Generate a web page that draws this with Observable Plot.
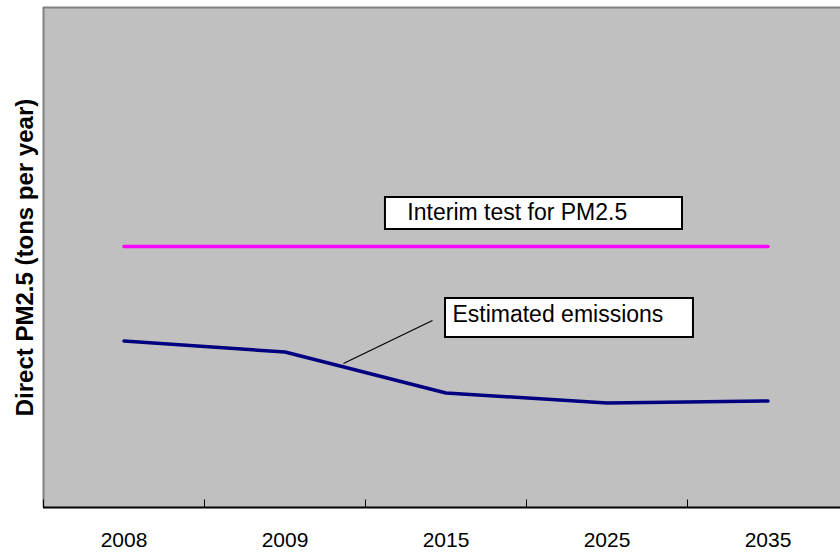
<!DOCTYPE html>
<html>
<head>
<meta charset="utf-8">
<script src="https://cdn.jsdelivr.net/npm/d3@7"></script>
<script src="https://cdn.jsdelivr.net/npm/@observablehq/plot@0.6"></script>
<style>
  html, body { margin: 0; padding: 0; background: white; overflow: hidden; }
  #wrap { width: 840px; height: 552px; overflow: hidden; }
  #wrap svg { max-width: none !important; }
</style>
</head>
<body>
<div id="wrap"></div>
<script>
// ---- data ----
const years = ["2008", "2009", "2015", "2025", "2035"];
const emissions = [33.3, 31.1, 22.9, 20.9, 21.3];
const interimTest = [52.2, 52.2, 52.2, 52.2, 52.2];
const yLabel = "Direct PM2.5 (tons per year)";
const noteLabels = ["Interim test for PM2.5", "Estimated emissions"];

// annotation placements (in x-index / value units)
const noteBoxes = [
  {x1: 1.624, x2: 3.469, y1: 55.6, y2: 62.0, tx: 1.76, ty: 58.9},
  {x1: 1.997, x2: 3.537, y1: 34.0, y2: 41.8, tx: 2.04, ty: 38.5}
];
const leader = [{x1: 1.916, y1: 37.4, x2: 1.363, y2: 28.8}];

const idx = years.map((_, i) => i);
const emisData = years.map((y, i) => ({i, v: emissions[i]}));
const interimData = years.map((y, i) => ({i, v: interimTest[i]}));
const bounds = years.map((_, i) => i - 0.5);
const notes = noteBoxes.map((b, k) => ({...b, label: noteLabels[k]}));

const font = "'Liberation Sans', Arial, Helvetica, sans-serif";

const chart = Plot.plot({
  width: 848,
  height: 552,
  marginLeft: 43,
  marginRight: 0,
  marginTop: 7,
  marginBottom: 45,
  x: {domain: [-0.5, years.length - 0.5]},
  y: {domain: [0, 100], axis: null},
  style: {fontFamily: font, background: "white", overflow: "visible", maxWidth: "none"},
  marks: [
    Plot.frame({fill: "#C0C0C0", stroke: null}),
    Plot.ruleX([-0.5], {stroke: "#808080", strokeWidth: 2}),
    Plot.ruleY([100], {stroke: "#808080", strokeWidth: 2}),
    Plot.ruleX(bounds, {y1: 0, y2: 1.5, stroke: "black", strokeWidth: 1}),
    Plot.ruleY([0], {stroke: "black", strokeWidth: 2}),
    Plot.axisX({
      ticks: idx,
      tickFormat: (i) => years[i],
      tickSize: 0,
      tickPadding: 25,
      fontSize: 21,
      fill: "black",
      label: null
    }),
    Plot.line(interimData, {x: "i", y: "v", stroke: "#FF00FF", strokeWidth: 3.5}),
    Plot.line(emisData, {x: "i", y: "v", stroke: "#000080", strokeWidth: 3.5}),
    Plot.link(leader, {x1: "x1", y1: "y1", x2: "x2", y2: "y2", stroke: "black", strokeWidth: 1.2}),
    Plot.rect(notes, {x1: "x1", x2: "x2", y1: "y1", y2: "y2", fill: "white", stroke: "black", strokeWidth: 2}),
    Plot.text(notes, {x: "tx", y: "ty", text: "label", textAnchor: "start", fontSize: 23, fill: "black"}),
    Plot.text([yLabel], {frameAnchor: "left", textAnchor: "middle", rotate: -90, dx: -18, fontSize: 24, fontWeight: "bold", fill: "black"})
  ]
});

document.getElementById("wrap").append(chart);
</script>
</body>
</html>
